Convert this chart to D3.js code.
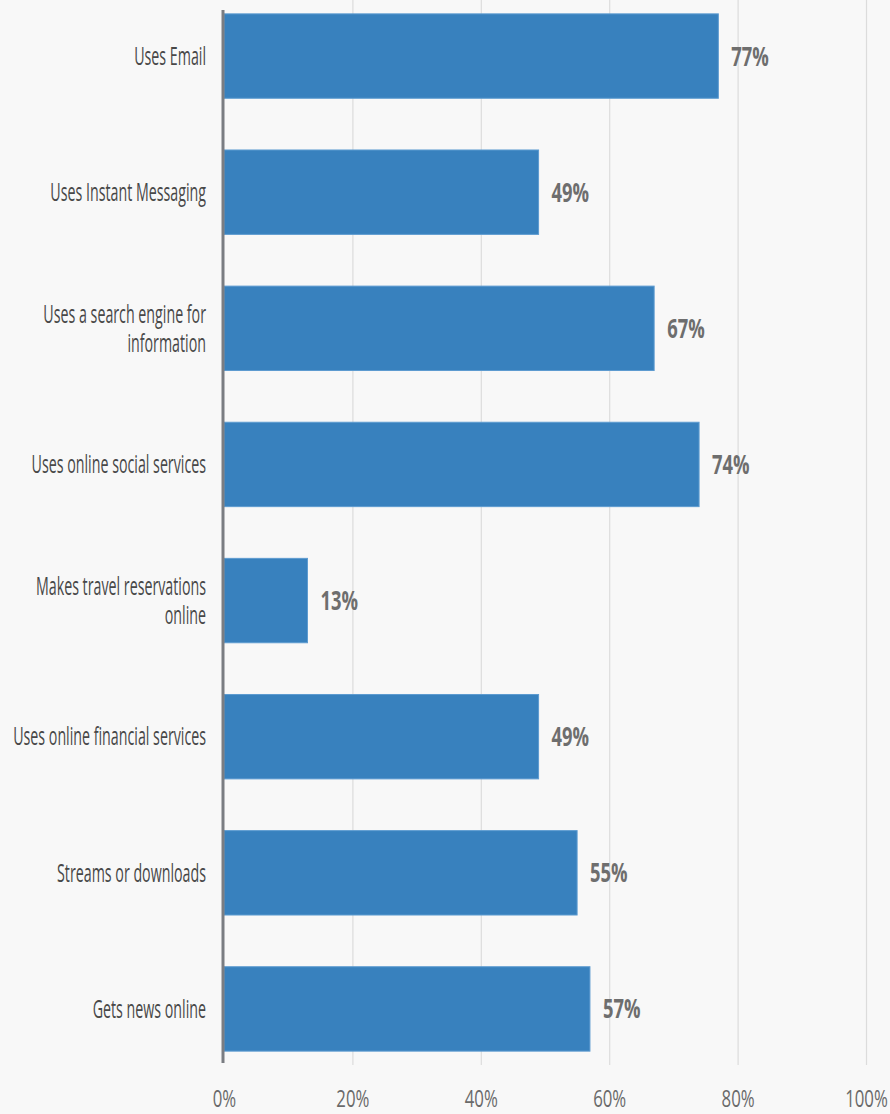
<!DOCTYPE html>
<html>
<head>
<meta charset="utf-8">
<script src="https://cdn.jsdelivr.net/npm/d3@7"></script>
<style>
  body { margin: 0; background: #f8f8f8; }
  svg { display: block; }
</style>
</head>
<body>
<div id="chart"></div>
<script>
// données
var categories = [
    "Uses Email",
    "Uses Instant Messaging",
    "Uses a search engine for\ninformation",
    "Uses online social services",
    "Makes travel reservations\nonline",
    "Uses online financial services",
    "Streams or downloads",
    "Gets news online"
];
var values = [77, 49, 67, 74, 13, 49, 55, 57];
var tickValues = [0, 20, 40, 60, 80, 100];
var tickLabels = ["0%", "20%", "40%", "60%", "80%", "100%"];

var width = 890;
var height = 1114;

var svg = d3.select("#chart")
    .append("svg")
    .attr("width", width)
    .attr("height", height);

svg.append("rect")
    .attr("width", width)
    .attr("height", height)
    .attr("fill", "#f8f8f8");

var x = d3.scaleLinear().domain([0, 100]).range([224, 866]);
var y = d3.scaleBand()
    .domain(categories)
    .range([-12, 1077])
    .paddingInner(0.38)
    .paddingOuter(0.19);

// texte écrasé horizontalement comme sur l'original
var squeeze = 0.57;

// grille + étiquettes de l'axe x
var xAxis = d3.axisBottom(x)
    .tickValues(tickValues)
    .tickFormat((d, i) => tickLabels[i])
    .tickSize(-1065)
    .tickPadding(0);

var gx = svg.append("g")
    .attr("transform", "translate(0,1065)")
    .call(xAxis);
gx.select(".domain").remove();
gx.selectAll(".tick line")
    .attr("stroke", "#dcdcdc")
    .attr("stroke-width", 1.2);
gx.selectAll(".tick text")
    .attr("y", 0)
    .attr("dy", 0)
    .attr("transform", "translate(0,42) scale(0.7,1)")
    .style("font-family", "'Open Sans', sans-serif")
    .style("font-size", "24px")
    .attr("fill", "#6a6a6a");
gx.select(".tick:first-of-type line").remove();

// barres
svg.selectAll(".bar")
    .data(values)
    .enter()
    .append("rect")
    .attr("class", "bar")
    .attr("x", x(0))
    .attr("y", (d, i) => y(categories[i]))
    .attr("width", d => x(d) - x(0))
    .attr("height", y.bandwidth())
    .attr("fill", "#3881be")
    .attr("stroke", "#5d9bd0")
    .attr("stroke-width", 1);

// axe vertical
svg.append("line")
    .attr("x1", 223).attr("x2", 223)
    .attr("y1", 10).attr("y2", 1063)
    .attr("stroke", "#7a7d82")
    .attr("stroke-width", 3);

// libellés des catégories
var lineH = 29;
var labels = svg.selectAll(".cat")
    .data(categories)
    .enter()
    .append("g")
    .attr("class", "cat")
    .attr("transform", d => "translate(206," + (y(d) + y.bandwidth() / 2) + ")");

labels.append("text")
    .attr("transform", "scale(" + squeeze + ",1)")
    .attr("text-anchor", "end")
    .style("font-family", "'Open Sans', sans-serif")
    .style("font-size", "25px")
    .attr("fill", "#484848")
    .each(function (d) {
        var lines = d.split("\n");
        var t = d3.select(this);
        lines.forEach(function (l, k) {
            t.append("tspan")
                .attr("x", 0)
                .attr("y", (k - (lines.length - 1) / 2) * lineH)
                .attr("dy", "0.35em")
                .text(l);
        });
    });

// valeurs
svg.selectAll(".val")
    .data(values)
    .enter()
    .append("g")
    .attr("class", "val")
    .attr("transform", (d, i) => "translate(" + (x(d) + 13) + "," + (y(categories[i]) + y.bandwidth() / 2) + ")")
    .append("text")
    .attr("transform", "scale(0.68,1)")
    .attr("dy", "0.35em")
    .style("font-family", "'Open Sans', sans-serif")
    .style("font-size", "27px")
    .style("font-weight", "bold")
    .attr("fill", "#6e6e6e")
    .text(d => d + "%");
</script>
</body>
</html>
